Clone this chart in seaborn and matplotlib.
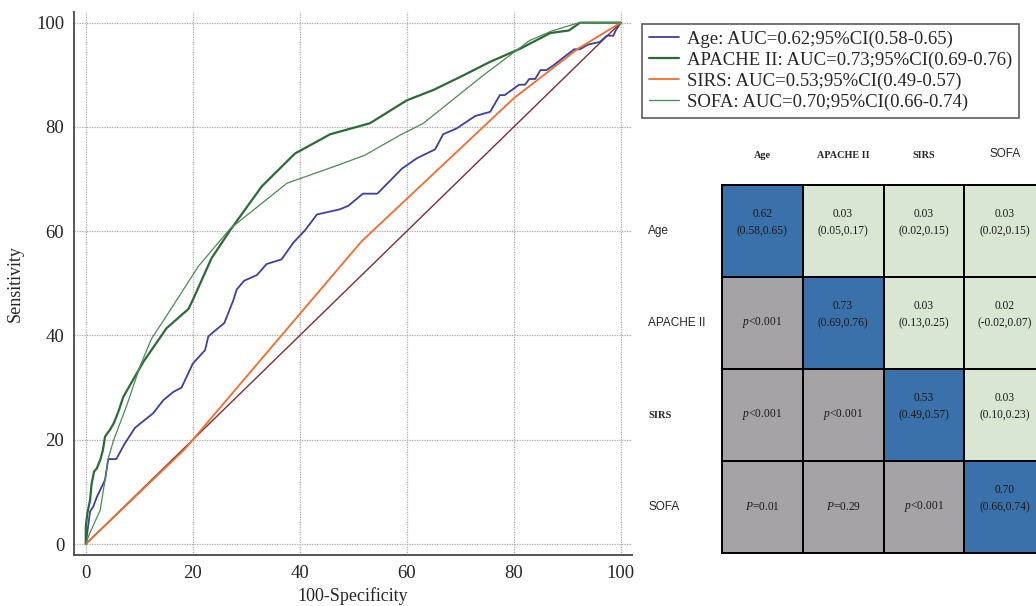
import numpy as np
import pandas as pd
import matplotlib
matplotlib.use("Agg")
import matplotlib.pyplot as plt
from matplotlib.colors import ListedColormap
from matplotlib.ticker import MultipleLocator
from matplotlib import font_manager
import seaborn as sns

# ---------------- data ----------------
age_x = [0, 0.8, 1.4, 2.1, 3.6, 4.2, 5.7, 7.3, 9.2, 12.6, 14.5, 16.4, 17.9, 20.0, 22.3, 22.9, 23.9,
         25.9, 27.6, 28.2, 29.6, 32.0, 33.8, 36.6, 38.8, 41.0, 43.2, 47.5, 49.1, 51.8, 54.5, 59.1,
         61.9, 65.3, 66.8, 69.3, 72.8, 75.6, 77.4, 78.3, 81.0, 82.1, 82.9, 84.0, 85.0, 86.1, 87.4,
         89.9, 91.3, 92.4, 93.9, 96.1, 97.4, 98.6, 99.1, 100]
age_y = [0, 6.2, 7.2, 9.1, 12.3, 16.3, 16.3, 19.3, 22.3, 25.1, 27.6, 29.2, 30.0, 34.6, 37.2, 39.8, 40.7,
         42.4, 46.8, 48.8, 50.5, 51.6, 53.7, 54.6, 57.8, 60.2, 63.2, 64.2, 64.9, 67.2, 67.2, 72.0,
         74.0, 75.7, 78.6, 79.7, 82.1, 82.9, 86.1, 86.1, 88.1, 88.1, 89.2, 89.2, 90.9, 90.9, 91.8,
         93.8, 94.9, 94.9, 95.8, 96.3, 97.5, 97.5, 98.6, 100]

apache_x = [0, 0, 0.3, 0.8, 1.1, 1.55, 2.05, 2.7, 3.2, 3.6, 4.5, 5.2, 6.1, 7.0, 10.8, 15.1, 19.2, 20.0,
            21.4, 23.5, 27.0, 32.9, 39.1, 45.7, 53.1, 60.0, 65.0, 70.6, 75.6, 81.2, 86.8, 90.3, 92.4, 100]
apache_y = [0, 3.3, 5.9, 8.4, 11.6, 13.9, 14.5, 16.1, 18.0, 20.6, 21.9, 23.1, 25.4, 28.2, 35.0, 41.4, 45.1, 46.8,
            50.0, 54.8, 60.2, 68.6, 74.9, 78.6, 80.7, 85.1, 87.1, 89.9, 92.5, 95.0, 98.0, 98.5, 100, 100]

sirs_x = [0, 18.5, 20.0, 51.5, 80.0, 92.0, 100]
sirs_y = [0, 18.2, 20.0, 58.0, 85.5, 95.0, 100]

sofa_x = [0, 0.7, 2.7, 3.6, 4.2, 5.2, 7.7, 10.1, 12.3, 14.8, 17.0, 21.0, 27.0, 37.6, 47.5, 52.2,
          58.7, 63.1, 74.3, 83.0, 87.1, 92.2, 100]
sofa_y = [0, 2.0, 6.5, 12.3, 16.4, 19.9, 26.7, 34.0, 39.4, 43.3, 46.8, 53.2, 60.5, 69.2, 72.8, 74.6,
          78.4, 80.7, 89.9, 96.6, 98.4, 100, 100]

ref_x = [0, 100]
ref_y = [0, 100]

legend_labels = ["Age: AUC=0.62;95%CI(0.58-0.65)",
                 "APACHE II: AUC=0.73;95%CI(0.69-0.76)",
                 "SIRS: AUC=0.53;95%CI(0.49-0.57)",
                 "SOFA: AUC=0.70;95%CI(0.66-0.74)"]

table_names = ["Age", "APACHE II", "SIRS", "SOFA"]
# 0 = p-value cell (grey), 1 = AUC (blue), 2 = difference (green)
cell_kind = [[1, 2, 2, 2],
             [0, 1, 2, 2],
             [0, 0, 1, 2],
             [0, 0, 0, 1]]
cell_text = [["0.62\n(0.58,0.65)\n", "0.03\n(0.05,0.17)\n", "0.03\n(0.02,0.15)\n", "0.03\n(0.02,0.15)\n"],
             ["$p$<0.001", "0.73\n(0.69,0.76)\n", "0.03\n(0.13,0.25)\n", "0.02\n(-0.02,0.07)\n"],
             ["$p$<0.001", "$p$<0.001", "0.53\n(0.49,0.57)\n", "0.03\n(0.10,0.23)\n"],
             ["$P$=0.01", "$P$=0.29", "$p$<0.001", "0.70\n(0.66,0.74)\n"]]

# ---------------- style ----------------
sns.set_theme(style="white")
plt.rcParams["font.family"] = ["Liberation Serif", "DejaVu Serif"]
plt.rcParams["mathtext.fontset"] = "custom"
plt.rcParams["mathtext.rm"] = "Liberation Serif"
plt.rcParams["mathtext.it"] = "Liberation Serif:italic"

installed = {f.name for f in font_manager.fontManager.ttflist}
SANS = "Liberation Sans Narrow" if "Liberation Sans Narrow" in installed else "Liberation Sans"

W, H = 1036, 606
fig = plt.figure(figsize=(W / 100, H / 100), dpi=100)

# ---------------- ROC axes ----------------
ax = fig.add_axes([74 / W, 1 - 555 / H, (632 - 74) / W, (555 - 11.7) / H])

series = [(age_x, age_y, "#3b40a2", 1.3, legend_labels[0]),
          (apache_x, apache_y, "#2d6a35", 1.6, legend_labels[1]),
          (sirs_x, sirs_y, "#f26c2c", 1.3, legend_labels[2]),
          (sofa_x, sofa_y, "#4c8a55", 0.9, legend_labels[3])]

sns.lineplot(x=ref_x, y=ref_y, ax=ax, color="#7a2f33", lw=1.0, estimator=None, sort=False, zorder=2)
for xs, ys, col, lw, lab in series:
    sns.lineplot(x=xs, y=ys, ax=ax, color=col, lw=lw, estimator=None, sort=False, label=lab, zorder=3)

ax.set_xlim(-2.2, 102.1)
ax.set_ylim(-2.1, 102.1)
ax.xaxis.set_major_locator(MultipleLocator(20))
ax.yaxis.set_major_locator(MultipleLocator(20))
ax.xaxis.set_minor_locator(MultipleLocator(5))
ax.yaxis.set_minor_locator(MultipleLocator(5))
ax.grid(True, which="major", color="#ababab", lw=0.9, ls=(0, (1, 1)))
ax.tick_params(which="major", direction="in", length=8, width=1.1, color="#444", labelsize=13.5, pad=7)
ax.tick_params(which="minor", direction="in", length=4.5, width=0.9, color="#444")
for s in ["top", "right"]:
    ax.spines[s].set_visible(False)
for s in ["left", "bottom"]:
    ax.spines[s].set_color("#555")
    ax.spines[s].set_linewidth(1.4)
ax.set_xlabel("100-Specificity", fontsize=13, labelpad=4)
ax.set_ylabel("Sensitivity", fontsize=13, labelpad=9)

leg = ax.legend(loc="upper left", bbox_to_anchor=(642 / W, 1 - 24 / H), bbox_transform=fig.transFigure,
                frameon=True, fancybox=False, edgecolor="#333333", fontsize=13.5,
                handlelength=1.6, handletextpad=0.45, labelspacing=0.2, borderpad=0.35,
                borderaxespad=0)
leg.get_frame().set_linewidth(1.2)

# ---------------- comparison table ----------------
tax = fig.add_axes([722 / W, 1 - 553 / H, 323 / W, (553 - 185) / H])
cmap = ListedColormap(["#a5a3a6", "#3a71aa", "#d8e6d2"])
sns.heatmap(np.array(cell_kind), cmap=cmap, vmin=-0.5, vmax=2.5, annot=np.array(cell_text, dtype=object),
            fmt="", cbar=False, linewidths=1.4, linecolor="black", ax=tax,
            annot_kws={"color": "#1a1a1a", "fontsize": 8.3, "linespacing": 1.6,
                       "family": "Liberation Serif"})
tax.xaxis.tick_top()
tax.set_xticks(np.arange(4) + 0.5)
tax.set_yticks(np.arange(4) + 0.5)
tax.set_xticklabels(table_names, rotation=0)
tax.set_yticklabels(table_names, rotation=0, ha="left", va="center")
tax.tick_params(axis="x", length=0, pad=18)
tax.tick_params(axis="y", length=0, pad=53)
for lab in tax.get_xticklabels():
    if lab.get_text() == "SOFA":
        lab.set_family(SANS); lab.set_fontsize(8.5)
    else:
        lab.set_family("Liberation Serif"); lab.set_fontweight("bold"); lab.set_fontsize(7.3)
for lab in tax.get_yticklabels():
    if lab.get_text() == "SIRS":
        lab.set_family("Liberation Serif"); lab.set_fontweight("bold"); lab.set_fontsize(7.5)
    else:
        lab.set_family(SANS); lab.set_fontsize(8.5)
tax.set_xlabel(""); tax.set_ylabel("")
for s in tax.spines.values():
    s.set_visible(True); s.set_color("black"); s.set_linewidth(1.4)

fig.savefig("out.png", dpi=100)
